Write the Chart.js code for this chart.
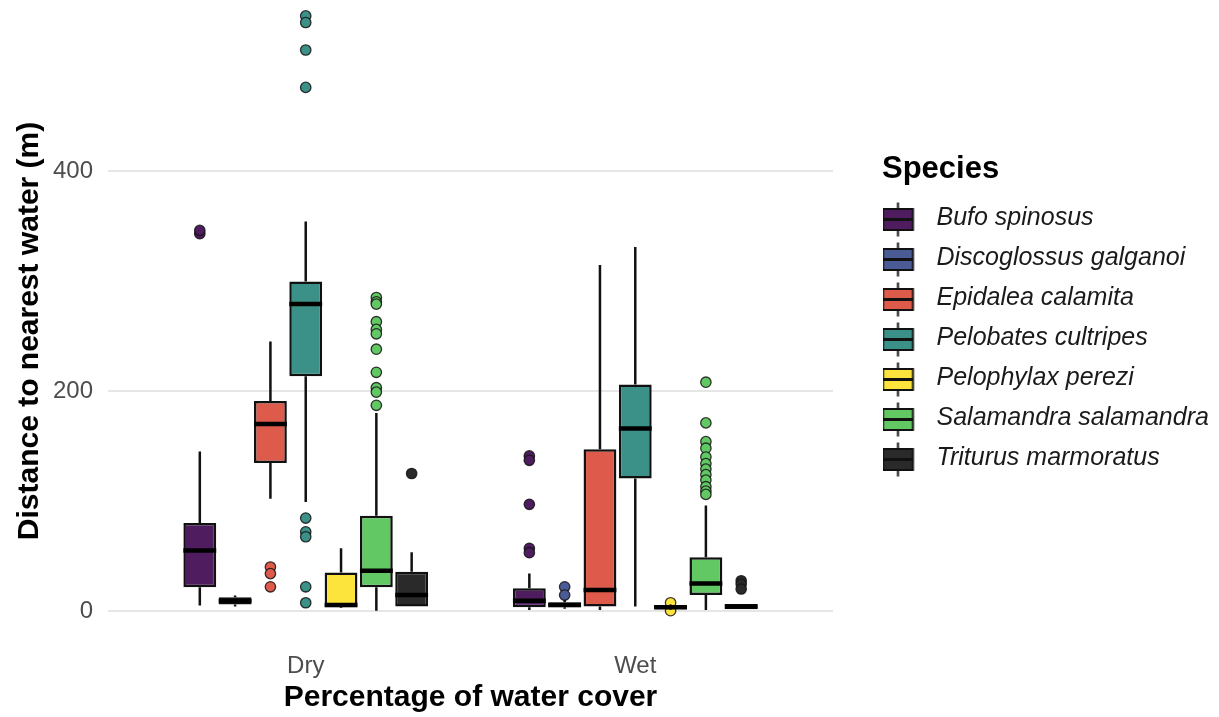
<!DOCTYPE html>
<html lang="en">
<head>
  <meta charset="UTF-8">
  <title>Distance to nearest water by species</title>
  <script src="https://cdn.jsdelivr.net/npm/chart.js"></script>
  <style>
    body { margin: 0; background: #fff; }
    #wrap { width: 1219px; height: 717px; }
  </style>
</head>
<body>
<div id="wrap"><canvas id="boxChart"></canvas></div>
<script>
// water-cover groups on the x axis
const categories = ['Dry', 'Wet'];
const species = ['Bufo spinosus', 'Discoglossus galganoi', 'Epidalea calamita', 'Pelobates cultripes',
                 'Pelophylax perezi', 'Salamandra salamandra', 'Triturus marmoratus'];
const colors = ['#4e1c5f', '#4a5b95', '#de5a4a', '#3b9088', '#fce43c', '#62c864', '#2a2a2a'];

// box stats per species, [Dry, Wet], metres
const whiskerLow  = [[5, 1], [4, 2], [102, 1], [99, 4], [2.7, 1], [0.3, 1], [4, 1.5]];
const q1          = [[21.5, 3.3], [6, 3.3], [134.5, 4], [213.5, 120.5], [3.4, 1.5], [21.5, 14.5], [4, 1.5]];
const median      = [[55, 9.4], [9, 5.5], [170, 19], [279, 166], [5.5, 3.5], [36.6, 25], [14.5, 4]];
const q3          = [[80, 20.6], [12.5, 8], [191, 147], [299.5, 206], [35, 5.5], [86.7, 48.8], [35.7, 6.4]];
const whiskerHigh = [[145, 34], [14, 10], [245, 314.5], [354, 331], [57, 6], [180, 96], [53.4, 6.4]];
const outliers = [
  [[343, 346], [141, 137, 97, 57, 53]],
  [[], [22, 14.5]],
  [[40, 34, 22], []],
  [[541, 535, 510, 476, 84.5, 72, 67.5, 22, 7.5], []],
  [[], [7.5, 0.3]],
  [[285, 281, 279, 263, 256, 252, 238, 217, 203, 199, 187],
   [208, 171, 154, 148, 140, 134, 129, 124, 119, 113, 109, 106]],
  [[125], [27.5, 24.5, 20]]
];
const yTicks = [0, 200, 400];

Chart.defaults.font.family = '"Liberation Sans", Arial, sans-serif';

// little boxplot key for the legend
function legendGlyph(color) {
  const c = document.createElement('canvas');
  c.width = 56; c.height = 40;
  const g = c.getContext('2d');
  const cx = 15.5, cy = 21.5;
  g.strokeStyle = '#111';
  g.lineWidth = 2;
  g.beginPath(); g.moveTo(cx, cy - 17); g.lineTo(cx, cy + 17); g.stroke();
  g.fillStyle = color;
  g.fillRect(cx - 15, cy - 10.5, 30, 21);
  g.lineWidth = 2;
  g.strokeRect(cx - 15, cy - 10.5, 30, 21);
  g.lineWidth = 3;
  g.beginPath(); g.moveTo(cx - 15, cy); g.lineTo(cx + 15, cy); g.stroke();
  return c;
}
const glyphs = colors.map(legendGlyph);

const datasets = species.map((name, i) => ({
  label: name,
  data: categories.map((c, j) => ({ x: j + 1, y: [q1[i][j], q3[i][j]] })),
  backgroundColor: colors[i],
  borderColor: '#111',
  borderWidth: 2.5,
  borderSkipped: false,
  categoryPercentage: 0.75,
  barPercentage: 0.93
}));

// outliers + whiskers under the boxes, medians over them
const boxParts = {
  id: 'boxParts',
  beforeDatasetsDraw(chart) {
    const ctx = chart.ctx, y = chart.scales.y;
    datasets.forEach((ds, i) => {
      chart.getDatasetMeta(i).data.forEach((bar, j) => {
        ctx.save();
        ctx.fillStyle = colors[i];
        ctx.strokeStyle = 'rgba(20,20,20,0.85)';
        ctx.lineWidth = 1.3;
        outliers[i][j].forEach(v => {
          ctx.beginPath();
          ctx.arc(bar.x, y.getPixelForValue(v), 5.2, 0, Math.PI * 2);
          ctx.fill(); ctx.stroke();
        });
        ctx.strokeStyle = '#111';
        ctx.lineWidth = 2.5;
        ctx.beginPath();
        ctx.moveTo(bar.x, y.getPixelForValue(whiskerHigh[i][j]));
        ctx.lineTo(bar.x, y.getPixelForValue(q3[i][j]));
        ctx.moveTo(bar.x, y.getPixelForValue(q1[i][j]));
        ctx.lineTo(bar.x, y.getPixelForValue(whiskerLow[i][j]));
        ctx.stroke();
        ctx.restore();
      });
    });
  },
  afterDatasetsDraw(chart) {
    const ctx = chart.ctx, y = chart.scales.y;
    datasets.forEach((ds, i) => {
      chart.getDatasetMeta(i).data.forEach((bar, j) => {
        const py = y.getPixelForValue(median[i][j]);
        ctx.save();
        ctx.strokeStyle = '#000';
        ctx.lineWidth = 4.5;
        ctx.beginPath();
        ctx.moveTo(bar.x - bar.width / 2, py);
        ctx.lineTo(bar.x + bar.width / 2, py);
        ctx.stroke();
        ctx.restore();
      });
    });
  }
};

new Chart(document.getElementById('boxChart'), {
  type: 'bar',
  data: { datasets },
  plugins: [boxParts],
  options: {
    responsive: true,
    maintainAspectRatio: false,
    animation: false,
    layout: { padding: { top: 21, right: 7, bottom: 0, left: 0 } },
    scales: {
      x: {
        type: 'linear',
        offset: false,
        min: 0.4,
        max: 2.6,
        afterBuildTicks: s => { s.ticks = categories.map((c, j) => ({ value: j + 1 })); },
        afterFit: s => { s.height = 76; s.paddingLeft = 0; s.paddingRight = 0; },
        grid: { display: false, drawTicks: false },
        border: { display: false },
        ticks: {
          callback: v => categories[v - 1],
          color: '#4d4d4d',
          font: { size: 24, lineHeight: 1 },
          padding: 13,
          autoSkip: false,
          maxRotation: 0
        },
        title: {
          display: true,
          text: 'Percentage of water cover',
          color: '#000',
          font: { size: 30, weight: 'bold', lineHeight: 1 },
          padding: { top: 0, bottom: 4 }
        }
      },
      y: {
        min: -27.27,
        max: 536.36,
        afterBuildTicks: s => { s.ticks = yTicks.map(v => ({ value: v })); },
        afterFit: s => { s.width = 108; s.paddingTop = 0; s.paddingBottom = 0; },
        grid: { color: '#e6e6e6', lineWidth: 2, drawTicks: false },
        border: { display: false },
        ticks: { color: '#4d4d4d', font: { size: 24 }, padding: 15 },
        title: {
          display: true,
          text: 'Distance to nearest water (m)',
          color: '#000',
          font: { size: 30, weight: 'bold', lineHeight: 1 },
          padding: { top: 15, bottom: 0 }
        }
      },
      // empty spacer between panel and legend
      gap: {
        type: 'linear',
        position: 'right',
        afterFit: s => { s.width = 49; s.paddingTop = 0; s.paddingBottom = 0; },
        grid: { display: false, drawTicks: false },
        border: { display: false },
        ticks: { display: false }
      }
    },
    plugins: {
      tooltip: { enabled: false },
      legend: {
        position: 'right',
        align: 'start',
        maxWidth: 330,
        title: {
          display: true,
          text: 'Species',
          position: 'start',
          color: '#000',
          font: { size: 31, weight: 'bold', lineHeight: 1 },
          padding: { top: 133, bottom: 5.5 }
        },
        labels: {
          usePointStyle: true,
          pointStyleWidth: 27,
          padding: 15,
          color: '#1a1a1a',
          font: { size: 25, style: 'italic' },
          generateLabels: chart => chart.data.datasets.map((ds, i) => ({
            text: ds.label,
            pointStyle: glyphs[i],
            fillStyle: ds.backgroundColor,
            strokeStyle: '#111',
            lineWidth: 0,
            hidden: false,
            datasetIndex: i,
            textAlign: 'left',
            fontColor: '#1a1a1a'
          }))
        }
      }
    }
  }
});
</script>
</body>
</html>
